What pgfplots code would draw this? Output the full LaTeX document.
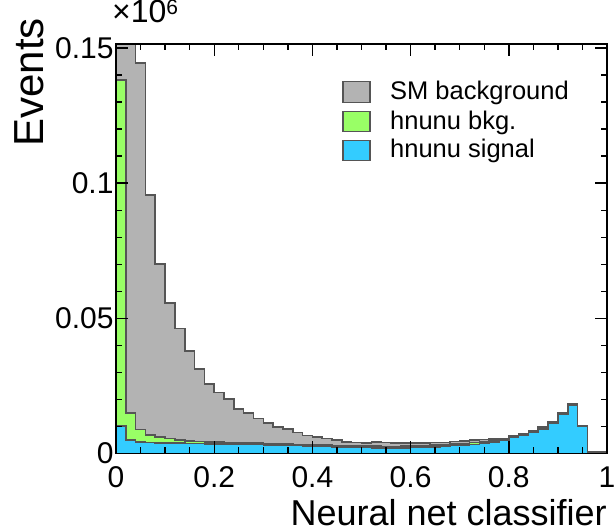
\documentclass[border=0pt]{standalone}
\usepackage{pgfplots}
\pgfplotsset{compat=1.18}
\usepackage{pgfplotstable}
\usepackage{fontspec}
\setmainfont{Liberation Sans}
\definecolor{smgray}{RGB}{179,179,179}
\definecolor{bkggreen}{RGB}{153,255,102}
\definecolor{sigblue}{RGB}{51,204,255}
\definecolor{edge}{RGB}{85,85,85}

% x = bin left edge; T = total (SM background stack), G = hnunu bkg + signal, S = hnunu signal
\pgfplotstableread{
x T G S
0.00 0.2500 0.1381 0.0101
0.02 0.1700 0.0149 0.0050
0.04 0.1445 0.0089 0.0043
0.06 0.0957 0.0069 0.0040
0.08 0.0702 0.0062 0.0039
0.10 0.0556 0.0055 0.0038
0.12 0.0462 0.0049 0.0038
0.14 0.0380 0.0047 0.0037
0.16 0.0312 0.0045 0.0037
0.18 0.0257 0.0043 0.0036
0.20 0.0225 0.0042 0.0036
0.22 0.0202 0.0041 0.0035
0.24 0.0164 0.0040 0.0035
0.26 0.0149 0.0039 0.0034
0.28 0.0129 0.0038 0.0033
0.30 0.0112 0.0037 0.0032
0.32 0.0099 0.0036 0.0031
0.34 0.0090 0.0035 0.0030
0.36 0.0077 0.0034 0.0029
0.38 0.0067 0.0033 0.0028
0.40 0.0060 0.0032 0.0027
0.42 0.0055 0.0031 0.0026
0.44 0.0050 0.0030 0.0025
0.46 0.0043 0.0029 0.0024
0.48 0.0041 0.0028 0.0023
0.50 0.0039 0.0027 0.0022
0.52 0.0042 0.0027 0.0021
0.54 0.0040 0.0026 0.0020
0.56 0.0038 0.0026 0.0020
0.58 0.0038 0.0027 0.0021
0.60 0.0038 0.0028 0.0022
0.62 0.0039 0.0029 0.0023
0.64 0.0040 0.0031 0.0025
0.66 0.0041 0.0033 0.0027
0.68 0.0045 0.0035 0.0029
0.70 0.0046 0.0037 0.0031
0.72 0.0049 0.0040 0.0034
0.74 0.0052 0.0044 0.0038
0.76 0.0053 0.0048 0.0042
0.78 0.0056 0.0053 0.0050
0.80 0.0066 0.0063 0.0059
0.82 0.0074 0.0071 0.0068
0.84 0.0084 0.0081 0.0078
0.86 0.0097 0.0094 0.0091
0.88 0.0118 0.0115 0.0112
0.90 0.0152 0.0149 0.0146
0.92 0.0183 0.0180 0.0177
0.94 0.0103 0.0102 0.0101
0.96 0.0006 0.0004 0.0002
0.98 0.0005 0.0003 0.0001
1.00 0.0005 0.0003 0.0001
}\hist

\begin{document}
\begin{tikzpicture}
\path[use as bounding box] (0,0) rectangle (614pt,532pt);
\begin{axis}[
  at={(116pt,78.5pt)}, anchor=south west,
  scale only axis, width=491pt, height=409.5pt,
  xmin=0, xmax=1, ymin=0, ymax=0.1515,
  axis line style={line width=1.6pt, black},
  xtick={0,0.2,0.4,0.6,0.8,1},
  xticklabels={0,0.2,0.4,0.6,0.8,1},
  ytick={0,0.05,0.1,0.15},
  yticklabels={0,0.05,0.1,0.15},
  minor x tick num=3, minor y tick num=4,
  tick align=inside,
  major tick length=12pt, minor tick length=6pt,
  every tick/.style={black, line width=1.4pt},
  ticklabel style={font=\fontsize{30}{30}\selectfont},
  xticklabel style={yshift=-10pt},
  yticklabel style={xshift=1pt},
  axis on top,
]
\addplot[const plot, fill=smgray, draw=edge, line width=1.6pt] table[x=x, y=T] {\hist} \closedcycle;
\addplot[const plot, fill=bkggreen, draw=edge, line width=1.6pt] table[x=x, y=G] {\hist} \closedcycle;
\addplot[const plot, fill=sigblue, draw=edge, line width=1.6pt] table[x=x, y=S] {\hist} \closedcycle;
% legend swatches
\addplot[fill=smgray, draw=edge, line width=1.4pt] coordinates {(0.4623,0.12993) (0.5173,0.12993) (0.5173,0.13770) (0.4623,0.13770)} -- cycle;
\addplot[fill=bkggreen, draw=edge, line width=1.4pt] coordinates {(0.4623,0.11919) (0.5173,0.11919) (0.5173,0.12659) (0.4623,0.12659)} -- cycle;
\addplot[fill=sigblue, draw=edge, line width=1.4pt] coordinates {(0.4623,0.10833) (0.5173,0.10833) (0.5173,0.11574) (0.4623,0.11574)} -- cycle;
\node[anchor=base west, inner sep=0pt, font=\fontsize{25.5}{25.5}\selectfont] at (axis cs:0.558,0.13093) {SM background};
\node[anchor=base west, inner sep=0pt, font=\fontsize{25.5}{25.5}\selectfont] at (axis cs:0.558,0.11981) {hnunu bkg.};
\node[anchor=base west, inner sep=0pt, font=\fontsize{25.5}{25.5}\selectfont] at (axis cs:0.558,0.10933) {hnunu signal};
\end{axis}
\node[anchor=base west, inner sep=0pt, font=\fontsize{32}{32}\selectfont] at (112pt,509pt) {×10\raisebox{8pt}{\fontsize{21}{21}\selectfont 6}};
\node[rotate=90, anchor=south east, inner sep=0pt, font=\fontsize{42}{42}\selectfont] at (44pt,514pt) {Events};
\node[anchor=base east, inner sep=0pt, font=\fontsize{36}{36}\selectfont] at (607pt,6pt) {Neural net classifier};
\end{tikzpicture}
\end{document}
